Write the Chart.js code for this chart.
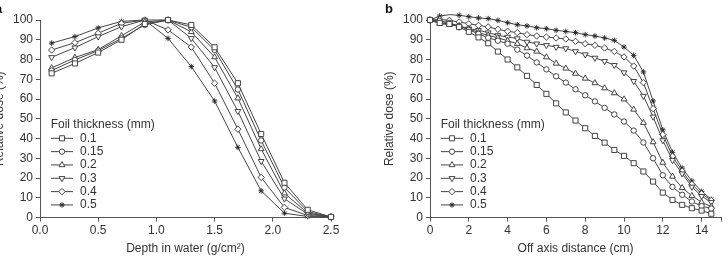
<!DOCTYPE html>
<html>
<head>
<meta charset="utf-8">
<script src="https://cdn.jsdelivr.net/npm/chart.js@4.4.1/dist/chart.umd.min.js"></script>
<style>
  html, body { margin: 0; padding: 0; background: #fff; }
  body { position: relative; width: 728px; height: 257px; overflow: hidden; }
  .panel { position: absolute; top: 0; width: 370px; height: 257px; }
  #panelA { left: -20px; }
  #panelB { left: 370px; }
</style>
</head>
<body>
<div class="panel" id="panelA"><canvas id="chartA" width="370" height="257"></canvas></div>
<div class="panel" id="panelB"><canvas id="chartB" width="370" height="257"></canvas></div>
<script>
// ─── Data ────────────────────────────────────────────────────
const foilLabels = ["0.1", "0.15", "0.2", "0.3", "0.4", "0.5"];

// (a) depth dose, x = depth in water (g/cm2)
const depthX   = [0.1, 0.3, 0.5, 0.7, 0.9, 1.1, 1.3, 1.5, 1.7, 1.9, 2.1, 2.3, 2.5];
const depth010 = [73, 78, 83.5, 90, 98, 100, 97.5, 86.2, 68, 42.3, 17.6, 3.9, 0.3];
const depth015 = [74.4, 79.8, 84.5, 90.7, 97.5, 100, 96.3, 84.8, 64.8, 39, 15.2, 3, 0.3];
const depth020 = [75.7, 81, 85, 92, 99, 100, 94, 81.2, 60.4, 34.7, 12.3, 2.2, 0.3];
const depth030 = [81.1, 86, 91.6, 96.6, 100, 100, 90.7, 76, 53.8, 28.5, 9.5, 1.7, 0.3];
const depth040 = [84.8, 88.5, 93.3, 98.3, 100, 95, 86.3, 68, 44.7, 20.3, 5.1, 1, 0.3];
const depth050 = [88.3, 91.6, 96, 99.3, 100, 90.7, 76.4, 59, 35.5, 13.5, 2.2, 0.5, 0.3];

// (b) off-axis profile, x = off axis distance (cm)
const offX   = [0, 0.5, 1, 1.5, 2, 2.5, 3, 3.5, 4, 4.5, 5, 5.5, 6, 6.5, 7, 7.5,
                8, 8.5, 9, 9.5, 10, 10.5, 11, 11.5, 12, 12.5, 13, 13.5, 14, 14.5];
const off010 = [100, 98.5, 98, 96.5, 94, 91.2, 88.2, 84, 80, 76, 71.7, 67.1, 62.6, 57.8, 53.2,
                49.1, 45.2, 41.3, 37.9, 34.2, 31.2, 27.5, 23.3, 18.2, 12.6, 8.9, 6.4, 4.7, 3.5, 1.9];
const off015 = [100, 99.5, 98.5, 97, 95, 93, 91, 89.5, 88, 85, 82, 78.5, 75, 71.5, 68.3,
                64.9, 61.9, 58.8, 55.5, 52.2, 48.6, 44, 38, 30, 21.4, 15.5, 11.5, 8.1, 5.8, 4.5];
const off020 = [100, 98.1, 97.6, 97, 95.6, 93.6, 92.2, 91, 89.5, 88, 85.8, 84.1, 81.2, 78, 75.5,
                72.9, 70.4, 68.1, 65.5, 63, 59.9, 54.7, 48, 38.2, 27.8, 20.8, 15, 11, 7.7, 5.5];
const off030 = [100, 99.3, 98.6, 96.5, 95.6, 94.8, 93.6, 92.2, 91.4, 90.6, 88.9, 88, 87.2, 86.3, 85.6,
                84.1, 82.5, 80.8, 79.1, 77.1, 73.4, 69, 61.5, 51, 39, 29, 22.2, 15.5, 10.8, 7.7];
const off040 = [100, 100.3, 99.8, 99, 98.1, 97.3, 96.5, 95.3, 94.3, 93.6, 92.6, 91.9, 91.4, 90.9, 90.4,
                89.2, 88, 87.2, 85.8, 84.1, 81.3, 76.7, 68.3, 55.1, 42, 31, 23.5, 16.8, 12, 8.7];
const off050 = [100, 102, 102.7, 102.4, 101.7, 101, 100.7, 99.8, 98.6, 97.6, 97, 96.1, 95.6, 94.8, 94.2,
                93.6, 92.6, 91.9, 90.9, 89.7, 86.3, 82.1, 73.7, 59, 44.4, 33, 25, 18.5, 13.2, 9.2];

// ─── Styles ──────────────────────────────────────────────────
const FONT = "'Liberation Sans', Arial, sans-serif";
const TEXT = "#333";
const LINE = "#454545";
const AXIS = "#555";

const markers = [
  { pointStyle: "rect",     radius: 3.6, rotation: 0,   fill: "#fff", bw: 1 },
  { pointStyle: "circle",   radius: 2.7, rotation: 0,   fill: "#fff", bw: 1 },
  { pointStyle: "triangle", radius: 3.4, rotation: 0,   fill: "#fff", bw: 1 },
  { pointStyle: "triangle", radius: 3.4, rotation: 180, fill: "#fff", bw: 1 },
  { pointStyle: "rectRot",  radius: 3.2, rotation: 0,   fill: "#fff", bw: 1 },
  { pointStyle: "star",     radius: 2.8, rotation: 0,   fill: "#444", bw: 0.9 },
];

function buildDatasets(xs, series) {
  return series.map((ys, i) => {
    const m = markers[i];
    return {
      label: foilLabels[i],
      data: xs.map((x, k) => ({ x, y: ys[k] })),
      borderColor: LINE,
      borderWidth: 1,
      pointStyle: m.pointStyle,
      pointRadius: m.radius,
      pointRotation: m.rotation,
      pointBackgroundColor: m.fill,
      pointBorderColor: i === 5 ? "#222" : LINE,
      pointBorderWidth: m.bw,
      showLine: true,
      tension: 0,
      clip: false,
    };
  });
}

// Legend drawn inside the plot area + panel letter
const foilLegend = {
  id: "foilLegend",
  afterDraw(chart, args, opts) {
    const ctx = chart.ctx;
    const ca = chart.chartArea;
    ctx.save();
    ctx.font = `12px ${FONT}`;
    ctx.fillStyle = TEXT;
    ctx.textAlign = "left";
    ctx.textBaseline = "middle";
    ctx.fillText("Foil thickness (mm)", ca.left + 10.7, 125);

    chart.data.datasets.forEach((ds, i) => {
      const y = 138.3 + i * 13.33;
      ctx.strokeStyle = LINE;
      ctx.lineWidth = 1;
      ctx.beginPath();
      ctx.moveTo(ca.left + 11, y);
      ctx.lineTo(ca.left + 33, y);
      ctx.stroke();
      ctx.fillStyle = ds.pointBackgroundColor;
      ctx.strokeStyle = ds.pointBorderColor;
      ctx.lineWidth = ds.pointBorderWidth;
      Chart.helpers.drawPoint(ctx, {
        pointStyle: ds.pointStyle,
        radius: ds.pointRadius,
        rotation: ds.pointRotation,
        borderWidth: ds.pointBorderWidth,
      }, ca.left + 22, y);
      ctx.fillStyle = TEXT;
      ctx.fillText(ds.label, ca.left + 40, y);
    });

    ctx.font = `bold 13px ${FONT}`;
    ctx.fillStyle = "#111";
    ctx.textBaseline = "alphabetic";
    ctx.fillText(opts.letter, 15, 13);
    ctx.restore();
  }
};

function makeChart(canvasId, letter, xs, series, xCfg) {
  return new Chart(document.getElementById(canvasId), {
    type: "scatter",
    data: { datasets: buildDatasets(xs, series) },
    plugins: [foilLegend],
    options: {
      responsive: false,
      animation: false,
      layout: { padding: { left: 12.8, top: 20, right: 19, bottom: 0 } },
      plugins: {
        legend: { display: false },
        tooltip: { enabled: false },
        foilLegend: { letter },
      },
      scales: {
        x: {
          type: "linear",
          min: xCfg.min,
          max: xCfg.max,
          afterBuildTicks: s => { s.ticks = xCfg.ticks.map(v => ({ value: v })); },
          ticks: {
            callback: xCfg.fmt,
            color: TEXT,
            font: { family: FONT, size: 12 },
            padding: 2,
            maxRotation: 0,
            autoSkip: false,
          },
          grid: { display: true, drawOnChartArea: false, drawTicks: true, tickLength: 4, color: AXIS },
          border: { display: true, color: AXIS, width: 1 },
          title: {
            display: true, text: xCfg.title, color: TEXT,
            font: { family: FONT, size: 12 }, padding: { top: 0, bottom: 1 },
          },
          afterFit: s => { s.height = 39.5; },
        },
        y: {
          min: 0,
          max: 100,
          ticks: {
            stepSize: 10,
            color: TEXT,
            font: { family: FONT, size: 12 },
            padding: 3,
          },
          grid: { display: true, drawOnChartArea: false, drawTicks: true, tickLength: 4, color: AXIS },
          border: { display: true, color: AXIS, width: 1 },
          title: {
            display: true, text: "Relative dose (%)", color: TEXT,
            font: { family: FONT, size: 12 }, padding: { top: 0, bottom: 0 },
          },
          afterFit: s => { s.width = 47.2; },
        },
      },
    },
  });
}

makeChart("chartA", "a", depthX,
  [depth010, depth015, depth020, depth030, depth040, depth050],
  {
    min: 0, max: 2.5,
    ticks: [0, 0.5, 1, 1.5, 2, 2.5],
    fmt: v => v.toFixed(1),
    title: "Depth in water (g/cm²)",
  });

makeChart("chartB", "b", offX,
  [off010, off015, off020, off030, off040, off050],
  {
    min: 0, max: 15,
    ticks: [0, 2, 4, 6, 8, 10, 12, 14, 15],
    fmt: v => (v === 15 ? "" : String(v)),
    title: "Off axis distance (cm)",
  });
</script>
</body>
</html>
